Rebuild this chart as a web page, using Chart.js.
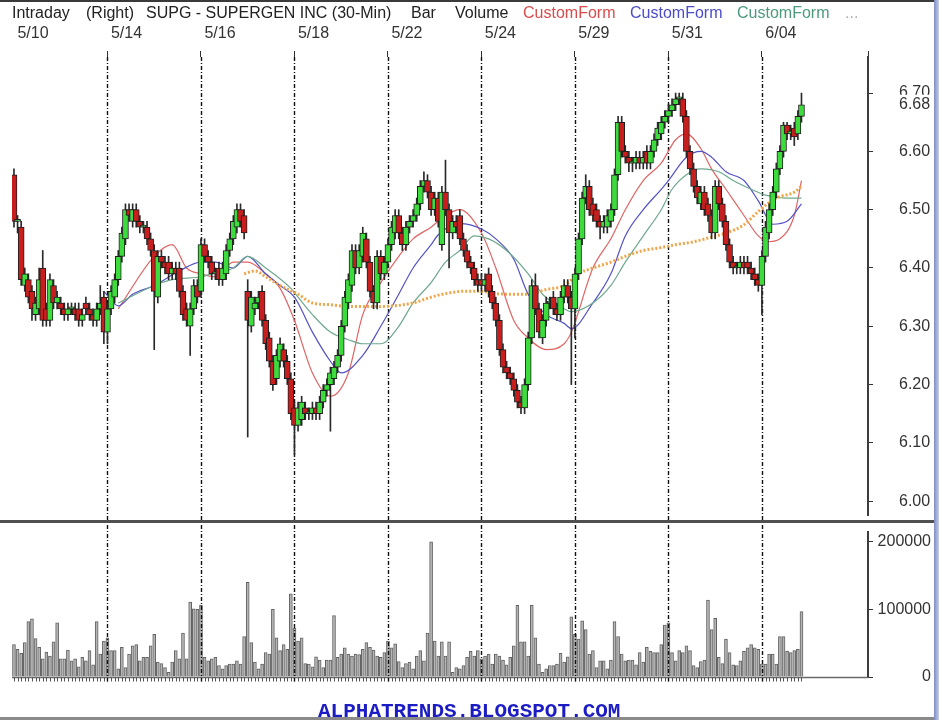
<!DOCTYPE html>
<html>
<head>
<meta charset="utf-8">
<script src="https://cdn.jsdelivr.net/npm/chart.js@4.4.1/dist/chart.umd.min.js"></script>
<style>
  html, body { margin: 0; padding: 0; background: #fff; }
  #wrap { position: relative; width: 939px; height: 720px; overflow: hidden; background: #fff;
          font-family: "Liberation Sans", Arial, sans-serif; }
  #topline { position: absolute; left: 0; top: 0; width: 939px; height: 2px; background: #3a3a3a; }
  .t { position: absolute; top: 5px; font-size: 16px; line-height: 16px; white-space: pre; color: #222; }
  #priceCanvas { position: absolute; left: 0; top: 0; }
  #volCanvas { position: absolute; left: 0; top: 524px; }
  #sep { position: absolute; left: 0; top: 520px; width: 935px; height: 3px; background: #505050; }
  #frameR { position: absolute; left: 934px; top: 0; width: 5px; height: 720px;
            background: linear-gradient(to right, #7d8cc4, #c5cdea); }
  #frameB { position: absolute; left: 0; top: 717px; width: 935px; height: 3px; background: #8a8a8a; }
  #footer { position: absolute; left: 318px; top: 701px; font-family: "Liberation Mono", "Courier New", monospace;
            font-weight: bold; font-size: 21px; line-height: 21px; color: #1c1cc4; white-space: pre; }
</style>
</head>
<body>
<div id="wrap">
  <canvas id="priceCanvas" width="939" height="520"></canvas>
  <canvas id="volCanvas" width="939" height="196"></canvas>
  <div id="topline"></div>
  <span class="t" style="left:12px">Intraday</span>
  <span class="t" style="left:86px">(Right)</span>
  <span class="t" style="left:146px">SUPG - SUPERGEN INC (30-Min)</span>
  <span class="t" style="left:411px">Bar</span>
  <span class="t" style="left:455px">Volume</span>
  <span class="t" style="left:523px;color:#d84c4c">CustomForm</span>
  <span class="t" style="left:630px;color:#4c4cc8">CustomForm</span>
  <span class="t" style="left:737px;color:#4c9a7c">CustomForm</span>
  <span class="t" style="left:845px;color:#b0b0b0">...</span>
  <div id="sep"></div>
  <div id="frameB"></div>
  <div id="frameR"></div>
  <div id="footer">ALPHATRENDS.BLOGSPOT.COM</div>
</div>
<script>
// 30-min bars, 13 per session (last session partial)
const dayLabels = ["5/10", "5/14", "5/16", "5/18", "5/22", "5/24", "5/29", "5/31", "6/04"];
const dayStarts = [0, 26, 52, 78, 104, 130, 156, 182, 208];
const priceTicks = [6.00, 6.10, 6.20, 6.30, 6.40, 6.50, 6.60, 6.70];
const volumeTicks = [0, 100000, 200000];

const opens = [
  6.56,6.48,6.47,6.37,6.38,6.36,6.32,6.33,6.40,6.33,6.31,6.37,6.34,
  6.34,6.33,6.32,6.33,6.33,6.33,6.31,6.34,6.33,6.32,6.31,6.33,6.35,
  6.29,6.33,6.35,6.38,6.42,6.45,6.50,6.48,6.50,6.48,6.47,6.47,6.45,
  6.43,6.35,6.42,6.41,6.41,6.39,6.40,6.40,6.36,6.33,6.30,6.33,6.37,
  6.36,6.44,6.42,6.41,6.39,6.40,6.38,6.39,6.43,6.45,6.47,6.50,6.49,
  6.36,6.30,6.33,6.34,6.36,6.31,6.28,6.24,6.21,6.24,6.26,6.24,6.21,
  6.16,6.13,6.14,6.16,6.15,6.15,6.16,6.15,6.17,6.19,6.20,6.21,6.23,
  6.25,6.30,6.34,6.37,6.43,6.40,6.42,6.45,6.41,6.36,6.34,6.42,6.39,
  6.41,6.44,6.46,6.49,6.46,6.44,6.47,6.48,6.49,6.51,6.54,6.55,6.53,
  6.50,6.52,6.44,6.53,6.50,6.46,6.48,6.49,6.45,6.43,6.41,6.40,6.38,
  6.38,6.37,6.39,6.36,6.34,6.31,6.26,6.23,6.22,6.21,6.19,6.17,6.16,
  6.20,6.28,6.37,6.33,6.28,6.31,6.34,6.35,6.33,6.32,6.35,6.37,6.35,
  6.33,6.39,6.45,6.52,6.54,6.51,6.50,6.48,6.47,6.47,6.48,6.50,6.56,
  6.65,6.60,6.59,6.58,6.58,6.59,6.58,6.60,6.58,6.60,6.62,6.63,6.65,
  6.66,6.67,6.68,6.69,6.69,6.66,6.60,6.57,6.54,6.51,6.53,6.51,6.49,
  6.46,6.54,6.51,6.48,6.44,6.41,6.40,6.40,6.41,6.41,6.40,6.39,6.38,
  6.37,6.42,6.46,6.50,6.53,6.57,6.60,6.645,6.63,6.64,6.63,6.66
];
const highs = [
  6.57,6.49,6.48,6.40,6.39,6.37,6.35,6.40,6.43,6.34,6.39,6.38,6.36,
  6.35,6.34,6.34,6.34,6.34,6.34,6.33,6.35,6.34,6.33,6.34,6.37,6.36,
  6.34,6.37,6.39,6.43,6.47,6.51,6.51,6.51,6.51,6.49,6.48,6.48,6.46,
  6.44,6.43,6.43,6.42,6.42,6.41,6.41,6.41,6.37,6.34,6.34,6.38,6.38,
  6.45,6.45,6.43,6.42,6.40,6.41,6.41,6.44,6.46,6.49,6.51,6.51,6.50,
  6.38,6.36,6.35,6.36,6.37,6.32,6.29,6.25,6.26,6.28,6.27,6.25,6.22,
  6.17,6.17,6.18,6.17,6.16,6.17,6.17,6.18,6.20,6.21,6.23,6.24,6.26,
  6.31,6.36,6.39,6.44,6.44,6.44,6.47,6.46,6.42,6.37,6.43,6.43,6.42,
  6.45,6.48,6.50,6.50,6.47,6.48,6.49,6.50,6.52,6.55,6.565,6.56,6.54,
  6.53,6.53,6.54,6.585,6.51,6.49,6.49,6.50,6.46,6.44,6.42,6.41,6.39,
  6.39,6.39,6.40,6.37,6.35,6.32,6.27,6.24,6.23,6.22,6.20,6.18,6.21,
  6.29,6.38,6.39,6.34,6.32,6.35,6.35,6.36,6.34,6.36,6.38,6.38,6.36,
  6.40,6.46,6.53,6.56,6.55,6.52,6.51,6.49,6.49,6.50,6.51,6.57,6.66,
  6.66,6.61,6.60,6.59,6.60,6.60,6.60,6.61,6.61,6.63,6.65,6.66,6.67,
  6.68,6.69,6.70,6.70,6.70,6.67,6.61,6.58,6.55,6.54,6.54,6.52,6.50,
  6.55,6.55,6.52,6.49,6.45,6.42,6.41,6.42,6.42,6.42,6.41,6.40,6.39,
  6.43,6.48,6.51,6.54,6.58,6.61,6.65,6.65,6.645,6.65,6.67,6.70
];
const lows = [
  6.47,6.46,6.37,6.36,6.34,6.31,6.31,6.32,6.30,6.30,6.30,6.33,6.33,
  6.32,6.31,6.31,6.32,6.31,6.30,6.30,6.32,6.31,6.30,6.30,6.32,6.27,
  6.27,6.32,6.34,6.37,6.41,6.44,6.48,6.47,6.47,6.46,6.46,6.44,6.42,
  6.26,6.34,6.40,6.39,6.38,6.38,6.38,6.35,6.31,6.30,6.25,6.32,6.34,
  6.35,6.41,6.40,6.38,6.38,6.37,6.37,6.38,6.42,6.44,6.46,6.47,6.45,
  6.11,6.29,6.32,6.33,6.30,6.26,6.23,6.19,6.20,6.23,6.23,6.20,6.14,
  6.08,6.12,6.13,6.14,6.14,6.14,6.14,6.14,6.16,6.18,6.12,6.20,6.22,
  6.24,6.29,6.33,6.36,6.39,6.39,6.41,6.40,6.35,6.33,6.33,6.38,6.38,
  6.40,6.43,6.45,6.45,6.43,6.43,6.46,6.47,6.48,6.50,6.53,6.52,6.49,
  6.49,6.47,6.43,6.49,6.40,6.45,6.46,6.44,6.42,6.40,6.39,6.37,6.36,
  6.36,6.36,6.35,6.33,6.30,6.25,6.22,6.21,6.20,6.18,6.16,6.15,6.15,
  6.19,6.27,6.32,6.28,6.27,6.30,6.33,6.32,6.31,6.31,6.34,6.34,6.20,
  6.28,6.38,6.44,6.51,6.49,6.48,6.47,6.45,6.46,6.46,6.47,6.49,6.55,
  6.59,6.58,6.565,6.565,6.57,6.57,6.57,6.57,6.57,6.59,6.61,6.62,6.64,
  6.65,6.66,6.67,6.68,6.65,6.59,6.56,6.53,6.51,6.50,6.49,6.48,6.45,
  6.45,6.50,6.47,6.43,6.40,6.39,6.39,6.39,6.39,6.39,6.38,6.37,6.36,
  6.32,6.41,6.45,6.49,6.52,6.56,6.59,6.62,6.62,6.61,6.62,6.65
];
const closes = [
  6.48,6.48,6.38,6.39,6.35,6.33,6.34,6.38,6.31,6.31,6.38,6.34,6.35,
  6.33,6.32,6.33,6.33,6.32,6.31,6.32,6.33,6.32,6.31,6.33,6.34,6.29,
  6.33,6.36,6.38,6.42,6.46,6.50,6.49,6.50,6.48,6.47,6.47,6.45,6.43,
  6.36,6.42,6.41,6.40,6.39,6.40,6.39,6.36,6.32,6.31,6.33,6.37,6.35,
  6.44,6.42,6.41,6.39,6.39,6.38,6.40,6.43,6.45,6.48,6.50,6.48,6.46,
  6.31,6.35,6.34,6.35,6.31,6.27,6.24,6.20,6.25,6.27,6.24,6.21,6.15,
  6.13,6.16,6.17,6.15,6.15,6.16,6.15,6.17,6.19,6.20,6.22,6.23,6.25,
  6.30,6.35,6.38,6.43,6.40,6.43,6.46,6.41,6.36,6.34,6.42,6.39,6.41,
  6.44,6.47,6.49,6.46,6.44,6.47,6.48,6.49,6.51,6.54,6.55,6.53,6.50,
  6.52,6.48,6.53,6.50,6.46,6.48,6.47,6.45,6.43,6.41,6.40,6.38,6.37,
  6.37,6.38,6.36,6.34,6.31,6.26,6.23,6.22,6.21,6.19,6.17,6.16,6.20,
  6.28,6.37,6.33,6.29,6.31,6.34,6.34,6.33,6.32,6.35,6.37,6.35,6.33,
  6.39,6.45,6.52,6.54,6.50,6.49,6.48,6.47,6.48,6.49,6.50,6.56,6.65,
  6.60,6.59,6.58,6.58,6.59,6.58,6.59,6.58,6.60,6.62,6.64,6.65,6.66,
  6.67,6.68,6.69,6.69,6.66,6.60,6.57,6.54,6.52,6.53,6.50,6.49,6.46,
  6.54,6.51,6.48,6.44,6.41,6.40,6.40,6.41,6.40,6.40,6.39,6.38,6.37,
  6.42,6.47,6.50,6.53,6.57,6.60,6.645,6.63,6.635,6.625,6.66,6.68
];
const volumes = [
  48000,41000,35000,51000,82000,86000,57000,44000,27000,37000,
  31000,52000,80000,27000,27000,40000,24000,27000,15000,29000,
  24000,39000,18000,82000,34000,53000,58000,39000,39000,12000,
  44000,14000,34000,46000,48000,24000,29000,29000,46000,63000,
  22000,20000,14000,7000,22000,39000,27000,65000,27000,111000,
  101000,100000,106000,29000,24000,27000,29000,17000,12000,17000,
  19000,19000,24000,19000,60000,140000,51000,22000,12000,19000,
  36000,34000,100000,58000,39000,48000,41000,123000,72000,53000,
  58000,20000,19000,15000,30000,25000,14000,25000,25000,91000,
  29000,34000,43000,34000,31000,34000,33000,41000,51000,44000,
  40000,31000,29000,36000,53000,43000,49000,23000,14000,20000,
  22000,12000,31000,39000,24000,65000,200000,53000,31000,52000,
  31000,52000,7000,14000,12000,17000,29000,38000,31000,39000,
  27000,31000,34000,19000,34000,31000,25000,18000,29000,46000,
  106000,52000,52000,31000,106000,58000,19000,7000,12000,17000,
  17000,19000,35000,22000,30000,89000,63000,56000,83000,70000,
  34000,39000,14000,24000,24000,12000,25000,82000,60000,34000,
  24000,25000,25000,18000,36000,22000,44000,38000,36000,36000,
  48000,77000,80000,36000,24000,39000,36000,46000,39000,17000,
  14000,23000,25000,114000,70000,87000,29000,20000,56000,36000,
  18000,17000,24000,38000,43000,48000,43000,41000,19000,19000,
  34000,34000,19000,60000,60000,38000,36000,39000,41000,97000
];

// moving-average traces: [bar index, price]
const maRed = [[29,6.33],[39,6.42],[44,6.44],[48,6.40],[52,6.39],[56,6.385],[61,6.41],[65,6.41],[70,6.39],
  [74,6.365],[78,6.31],[83,6.22],[88,6.18],[93,6.22],[97,6.32],[102,6.375],[107,6.42],[111,6.45],[116,6.47],
  [120,6.49],[124,6.50],[130,6.46],[134,6.40],[139,6.31],[143,6.28],[148,6.26],[153,6.27],[155,6.29],[161,6.40],
  [166,6.45],[170,6.50],[175,6.55],[180,6.58],[184,6.62],[187,6.63],[191,6.605],[194,6.57],[198,6.535],
  [203,6.49],[207,6.455],[210,6.445],[213,6.45],[217,6.49],[219,6.55]];
const maBlue = [[25,6.36],[29,6.335],[33,6.355],[39,6.37],[46,6.395],[52,6.41],[56,6.41],[61,6.40],[65,6.42],
  [70,6.39],[74,6.37],[78,6.35],[83,6.29],[88,6.24],[91,6.22],[97,6.25],[102,6.30],[107,6.355],[111,6.40],
  [116,6.44],[118,6.457],[124,6.476],[130,6.467],[134,6.45],[139,6.415],[143,6.355],[148,6.32],[153,6.305],
  [155,6.296],[161,6.34],[166,6.39],[170,6.455],[175,6.50],[180,6.535],[182,6.55],[187,6.59],[191,6.60],
  [194,6.59],[198,6.565],[203,6.55],[207,6.515],[211,6.475],[215,6.48],[219,6.51]];
const maGreen = [[29,6.34],[39,6.37],[44,6.38],[52,6.385],[55,6.39],[61,6.40],[65,6.42],[70,6.40],[77,6.365],
  [79,6.35],[83,6.32],[88,6.29],[93,6.277],[97,6.27],[102,6.27],[107,6.30],[111,6.34],[116,6.375],[120,6.41],
  [124,6.43],[128,6.455],[132,6.45],[137,6.43],[143,6.39],[147,6.355],[153,6.33],[155,6.325],[161,6.34],
  [166,6.37],[170,6.41],[175,6.455],[180,6.50],[183,6.535],[187,6.56],[191,6.57],[196,6.565],[200,6.55],
  [205,6.535],[209,6.525],[215,6.52],[219,6.52]];
const maOrange = [[64,6.39],[67,6.395],[70,6.385],[74,6.37],[79,6.355],[83,6.34],[88,6.337],[93,6.334],
  [102,6.334],[111,6.34],[116,6.35],[120,6.356],[125,6.36],[130,6.36],[134,6.356],[139,6.355],[143,6.355],
  [148,6.363],[153,6.37],[157,6.39],[161,6.40],[166,6.41],[170,6.42],[175,6.43],[180,6.435],[184,6.44],
  [189,6.445],[194,6.453],[198,6.46],[203,6.474],[207,6.497],[212,6.52],[217,6.53],[219,6.54]];

const FONT = '"Liberation Sans", Arial, sans-serif';
Chart.defaults.font.family = FONT;
Chart.defaults.font.size = 16;
Chart.defaults.color = "#333";

const UP = "#3ddc3d";
const DOWN = "#c81e1e";
const X_MIN = -0.55;
const X_MAX = 237.5;

// keep tick-label overflow padding from shrinking the plot area
const noEdgePadding = (scale) => {
  scale.paddingTop = 0;
  scale.paddingBottom = 0;
  scale.paddingLeft = 0;
  scale.paddingRight = 0;
};

function drawDayLines(chart, top, bottom) {
  const ctx = chart.ctx;
  const x = chart.scales.x;
  ctx.save();
  ctx.strokeStyle = "#111";
  ctx.lineWidth = 1.4;
  ctx.setLineDash([4, 2, 1, 2]);
  dayStarts.slice(1).forEach((d) => {
    const px = Math.round(x.getPixelForValue(d)) + 0.5;
    ctx.beginPath();
    ctx.moveTo(px, top);
    ctx.lineTo(px, bottom);
    ctx.stroke();
  });
  ctx.restore();
}

const priceDayLines = {
  id: "priceDayLines",
  beforeDatasetsDraw(chart) {
    drawDayLines(chart, chart.chartArea.top, chart.height);
  },
};

const lastPriceLabel = {
  id: "lastPriceLabel",
  afterDraw(chart) {
    const y = chart.scales.y;
    const last = closes[closes.length - 1];
    const py = y.getPixelForValue(last);
    const ctx = chart.ctx;
    ctx.save();
    ctx.fillStyle = "#fff";
    ctx.fillRect(y.left + 24, py - 10, 44, 19);
    ctx.fillStyle = "#333";
    ctx.font = "16px " + FONT;
    ctx.textBaseline = "middle";
    ctx.textAlign = "left";
    ctx.fillText(last.toFixed(2), y.left + 31, py);
    ctx.restore();
  },
};

const volumeDecor = {
  id: "volumeDecor",
  afterDatasetsDraw(chart) {
    const { ctx, chartArea } = chart;
    const x = chart.scales.x;
    const y0 = Math.round(chart.scales.y.getPixelForValue(0)) + 0.5;
    ctx.save();
    ctx.strokeStyle = "#6a6a6a";
    ctx.lineWidth = 1.5;
    ctx.beginPath();
    ctx.moveTo(chartArea.left, y0);
    ctx.lineTo(chartArea.right, y0);
    ctx.stroke();
    ctx.lineWidth = 1;
    ctx.strokeStyle = "#555";
    ctx.beginPath();
    volumes.forEach((v, i) => {
      const px = Math.round(x.getPixelForValue(i)) + 0.5;
      ctx.moveTo(px, y0);
      ctx.lineTo(px, y0 + 4);
    });
    ctx.stroke();
    ctx.restore();
    drawDayLines(chart, 1, y0 + 4);
  },
};

const toPoints = (pairs) => pairs.map(([i, v]) => ({ x: i, y: v }));
const maLine = (pairs, color, width, dash) => ({
  type: "line",
  data: toPoints(pairs),
  borderColor: color,
  borderWidth: width,
  borderDash: dash || [],
  pointRadius: 0,
  cubicInterpolationMode: "monotone",
  order: 3,
});

new Chart(document.getElementById("priceCanvas"), {
  type: "bar",
  data: {
    datasets: [
      maLine(maOrange, "#f2a548", 3, [2, 2]),
      maLine(maGreen, "#6fa88e", 1.2),
      maLine(maBlue, "#5252c6", 1.2),
      maLine(maRed, "#e06464", 1.2),
      {
        label: "wicks",
        data: opens.map((o, i) => ({ x: i, y: [lows[i], highs[i]] })),
        backgroundColor: "#2a2a2a",
        barThickness: 1,
        grouped: false,
        order: 2,
      },
      {
        label: "bodies",
        data: opens.map((o, i) => ({ x: i, y: [o, closes[i]] })),
        backgroundColor: opens.map((o, i) => (closes[i] >= o ? UP : DOWN)),
        borderColor: "#1e1e1e",
        borderWidth: 1,
        borderSkipped: false,
        barThickness: 6,
        minBarLength: 2,
        grouped: false,
        order: 1,
      },
    ],
  },
  options: {
    responsive: false,
    animation: false,
    layout: { padding: { left: 12, right: 8, top: 20, bottom: 5 } },
    plugins: { legend: { display: false }, tooltip: { enabled: false } },
    scales: {
      x: {
        type: "linear",
        position: "top",
        offset: false,
        min: X_MIN,
        max: X_MAX,
        afterBuildTicks: (scale) => {
          scale.ticks = dayStarts.map((v) => ({ value: v })).concat([{ value: X_MAX }]);
        },
        afterFit: (scale) => { scale.height = 37; noEdgePadding(scale); },
        ticks: {
          autoSkip: false,
          maxRotation: 0,
          labelOffset: 19,
          padding: 8,
          color: "#333",
          callback: (v) => {
            const k = dayStarts.indexOf(v);
            return k >= 0 ? dayLabels[k] : "";
          },
        },
        grid: {
          offset: false,
          drawOnChartArea: false,
          tickLength: 6,
          tickColor: (c) => (c.tick && c.tick.value === 0 ? "rgba(0,0,0,0)" : "#333"),
        },
        border: { display: false },
      },
      y: {
        type: "linear",
        position: "right",
        min: 5.9763,
        max: 6.7619,
        afterBuildTicks: (scale) => {
          scale.ticks = priceTicks.map((v) => ({ value: v }));
        },
        afterFit: (scale) => { scale.width = 63; noEdgePadding(scale); },
        ticks: {
          padding: 26,
          color: "#333",
          callback: (v) => v.toFixed(2),
        },
        grid: { drawOnChartArea: false, tickLength: 5, tickColor: "#333" },
        border: { display: true, color: "#3c3c3c", width: 2 },
      },
    },
  },
  plugins: [priceDayLines, lastPriceLabel],
});

new Chart(document.getElementById("volCanvas"), {
  type: "bar",
  data: {
    datasets: [
      {
        label: "Volume",
        data: volumes.map((v, i) => ({ x: i, y: v })),
        backgroundColor: "#b4b4b4",
        borderColor: "#646464",
        borderWidth: 1,
        barThickness: 3,
        grouped: false,
      },
    ],
  },
  options: {
    responsive: false,
    animation: false,
    layout: { padding: { left: 12, right: 8, top: 8, bottom: 43 } },
    plugins: { legend: { display: false }, tooltip: { enabled: false } },
    scales: {
      x: { type: "linear", offset: false, min: X_MIN, max: X_MAX, display: false },
      y: {
        type: "linear",
        position: "right",
        min: 0,
        max: 214600,
        afterBuildTicks: (scale) => {
          scale.ticks = volumeTicks.map((v) => ({ value: v }));
        },
        afterFit: (scale) => { scale.width = 63; noEdgePadding(scale); },
        ticks: {
          padding: 5,
          crossAlign: "far",
          color: "#333",
          callback: (v) => String(v),
        },
        grid: { drawOnChartArea: false, tickLength: 5, tickColor: "#333" },
        border: { display: true, color: "#3c3c3c", width: 2 },
      },
    },
  },
  plugins: [volumeDecor],
});
</script>
</body>
</html>
